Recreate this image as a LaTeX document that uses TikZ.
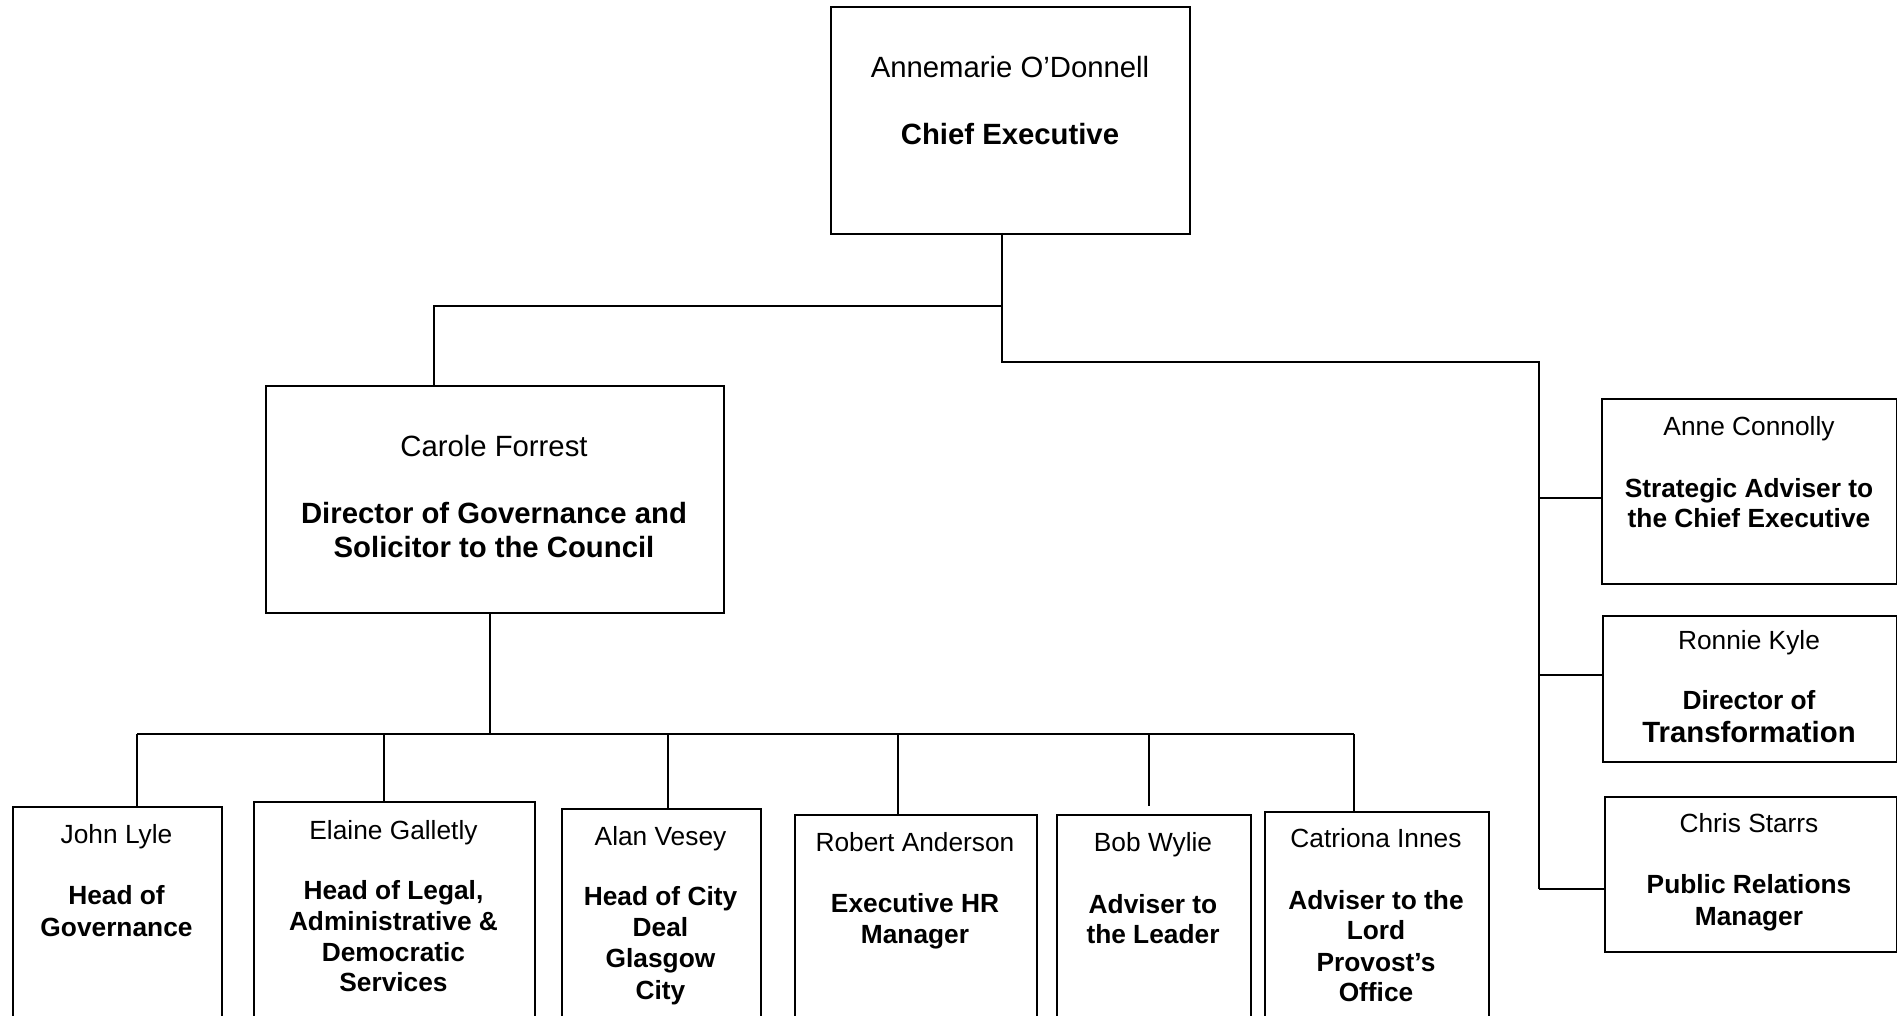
\documentclass[tikz,border=0pt]{standalone}
\usepackage{fontspec}
\setmainfont{Liberation Sans}
\begin{document}
\begin{tikzpicture}[x=1pt,y=-1pt,
  box/.style={draw, line width=1.8pt, inner sep=0pt, anchor=north west},
  big/.style={anchor=base, inner sep=0pt, font=\fontsize{29.3}{34}\selectfont},
  bigb/.style={big, font=\fontsize{29.3}{34}\selectfont\bfseries},
  sm/.style={anchor=base, inner sep=0pt, font=\fontsize{26.3}{31}\selectfont},
  smb/.style={sm, font=\fontsize{26.3}{31}\selectfont\bfseries},
  link/.style={line width=1.8pt}]
\useasboundingbox (0,0) rectangle (1897,1016);
% boxes
\node[box, minimum width=359pt, minimum height=227pt] (ce) at (830,6) {};
\node[box, minimum width=458pt, minimum height=227pt] (cf) at (265,385) {};
\node[box, minimum width=209pt, minimum height=230pt] (jl) at (12,806) {};
\node[box, minimum width=281pt, minimum height=230pt] (eg) at (253,801) {};
\node[box, minimum width=199pt, minimum height=230pt] (av) at (561,808) {};
\node[box, minimum width=242pt, minimum height=230pt] (ra) at (794,814) {};
\node[box, minimum width=194pt, minimum height=230pt] (bw) at (1056,814) {};
\node[box, minimum width=224pt, minimum height=230pt] (ci) at (1264,811) {};
\node[box, minimum width=295pt, minimum height=185pt] (ac) at (1601,398) {};
\node[box, minimum width=294pt, minimum height=146pt] (rk) at (1602,615) {};
\node[box, minimum width=292pt, minimum height=155pt] (cs) at (1604,796) {};
% texts
\node[big] (t1) at (1010,78) {Annemarie O’Donnell};
\node[bigb] (t2) at (1010,145) {Chief Executive};
\node[big] (t3) at (494,456) {Carole Forrest};
\node[bigb] (t4) at (494,523) {Director of Governance and};
\node[bigb] (t5) at (494,557) {Solicitor to the Council};
\node[sm] (t6) at (116.5,843) {John Lyle};
\node[smb] (t7) at (116.5,904) {Head of};
\node[smb] (t8) at (116.5,936) {Governance};
\node[sm] (t9) at (393.5,839) {Elaine Galletly};
\node[smb] (t10) at (393.5,899) {Head of Legal,};
\node[smb] (t11) at (393.5,930) {Administrative \&};
\node[smb] (t12) at (393.5,961) {Democratic};
\node[smb] (t13) at (393.5,991) {Services};
\node[sm] (t14) at (660.5,845) {Alan Vesey};
\node[smb] (t15) at (660.5,905) {Head of City};
\node[smb] (t16) at (660.5,936) {Deal};
\node[smb] (t17) at (660.5,967) {Glasgow};
\node[smb] (t18) at (660.5,999) {City};
\node[sm] (t19) at (915,851) {Robert Anderson};
\node[smb] (t20) at (915,912) {Executive HR};
\node[smb] (t21) at (915,943) {Manager};
\node[sm] (t22) at (1153,851) {Bob Wylie};
\node[smb] (t23) at (1153,913) {Adviser to};
\node[smb] (t24) at (1153,943) {the Leader};
\node[sm] (t25) at (1376,847) {Catriona Innes};
\node[smb] (t26) at (1376,909) {Adviser to the};
\node[smb] (t27) at (1376,939) {Lord};
\node[smb] (t28) at (1376,971) {Provost’s};
\node[smb] (t29) at (1376,1001) {Office};
\node[sm] (t30) at (1749,435) {Anne Connolly};
\node[smb] (t31) at (1749,497) {Strategic Adviser to};
\node[smb] (t32) at (1749,527) {the Chief Executive};
\node[sm] (t33) at (1749,649) {Ronnie Kyle};
\node[smb] (t34) at (1749,709) {Director of};
\node[bigb] (t35) at (1749,742) {Transformation};
\node[sm] (t36) at (1749,832) {Chris Starrs};
\node[smb] (t37) at (1749,893) {Public Relations};
\node[smb] (t38) at (1749,925) {Manager};
% connector coordinates
\coordinate (ceb) at (1002,233);
\coordinate (j1) at (1002,306);
\coordinate (j2) at (434,306);
\coordinate (j3) at (1002,362);
\coordinate (j4) at (1539,362);
\coordinate (r1) at (1539,498);
\coordinate (r2) at (1539,675);
\coordinate (r3) at (1539,889);
\coordinate (cfb) at (490,612);
\coordinate (h0) at (490,734);
\coordinate (hl) at (137,734);
\coordinate (hr) at (1354,734);
\coordinate (bwend) at (1149,806);
% connectors
\draw[link] (ceb) -- (j3) -- (j4) -- (r3);
\draw[link] (j1) -- (j2) -- (j2 |- cf.north);
\draw[link] (r1) -- (r1 -| ac.west);
\draw[link] (r2) -- (r2 -| rk.west);
\draw[link] (r3) -- (r3 -| cs.west);
\draw[link] (cfb) -- (h0);
\draw[link] (hl) -- (hr);
\draw[link] (hl) -- (hl |- jl.north);
\draw[link] (384,734) -- (384,801);
\draw[link] (668,734) -- (668,808);
\draw[link] (898,734) -- (898,814);
\draw[link] (1149,734) -- (bwend);
\draw[link] (hr) -- (hr |- ci.north);
\end{tikzpicture}
\end{document}
